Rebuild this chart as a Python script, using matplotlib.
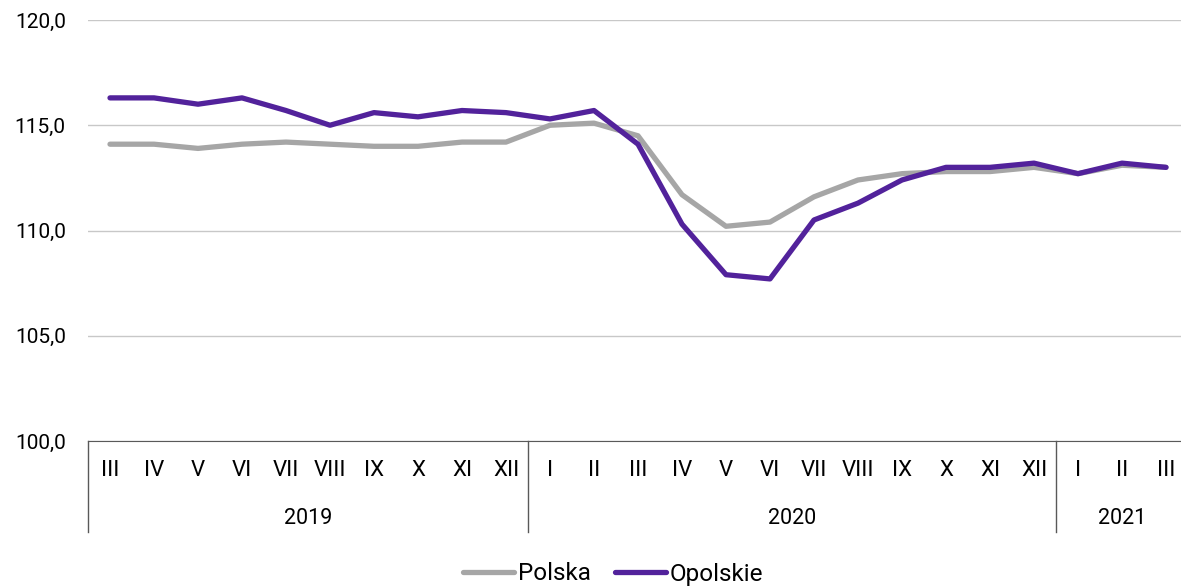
import numpy as np
import matplotlib
matplotlib.use('Agg')
import matplotlib.pyplot as plt
import matplotlib.transforms as mtrans

plt.rcParams['font.family'] = ['Roboto', 'DejaVu Sans']

# dane
months = ['III', 'IV', 'V', 'VI', 'VII', 'VIII', 'IX', 'X', 'XI', 'XII',
          'I', 'II', 'III', 'IV', 'V', 'VI', 'VII', 'VIII', 'IX', 'X', 'XI', 'XII',
          'I', 'II', 'III']
years = ['2019', '2020', '2021']
year_counts = [10, 12, 3]

polska = [114.1, 114.1, 113.9, 114.1, 114.2, 114.1, 114.0, 114.0, 114.2, 114.2,
          115.0, 115.1, 114.5, 111.7, 110.2, 110.4, 111.6, 112.4, 112.7, 112.8, 112.8, 113.0,
          112.7, 113.1, 113.0]
opolskie = [116.3, 116.3, 116.0, 116.3, 115.7, 115.0, 115.6, 115.4, 115.7, 115.6,
            115.3, 115.7, 114.1, 110.3, 107.9, 107.7, 110.5, 111.3, 112.4, 113.0, 113.0, 113.2,
            112.7, 113.2, 113.0]

W, H = 1181, 587
fig = plt.figure(figsize=(W / 100, H / 100), dpi=100)
ax = fig.add_axes([88 / W, (H - 441) / H, 1100 / W, 421 / H])

x = np.arange(len(months))
ax.plot(x, polska, color='#a6a6a6', lw=3.8, label='Polska', solid_capstyle='round')
ax.plot(x, opolskie, color='#52229b', lw=3.8, label='Opolskie', solid_capstyle='round')

ax.set_xlim(-0.5, len(months) - 0.5)
ax.set_ylim(100, 120)
ax.set_yticks([100, 105, 110, 115, 120])
ax.set_yticklabels([f'{v:.1f}'.replace('.', ',') for v in [100, 105, 110, 115, 120]])
ax.grid(axis='y', color='#c8c8c8', lw=1)
ax.set_axisbelow(True)
for s in ['top', 'right', 'left']:
    ax.spines[s].set_visible(False)
ax.spines['bottom'].set_color('#595959')
ax.tick_params(axis='y', length=0, pad=16, labelsize=15)
ax.set_xticks(x)
ax.set_xticklabels(months)
ax.tick_params(axis='x', length=0, pad=14, labelsize=16)

# podział na lata
trans = mtrans.blended_transform_factory(ax.transData, ax.transAxes)
depth = 91 / 421
start = 0
bounds = [-0.5]
for yr, n in zip(years, year_counts):
    center = start + (n - 1) / 2
    ax.text(center, -77 / 421, yr, transform=trans, ha='center', va='center', fontsize=15.5)
    start += n
    bounds.append(start - 0.5)
for b in bounds[:-1]:
    ax.plot([b, b], [0, -depth], transform=trans, color='#595959', lw=1, clip_on=False)

fig.legend(loc='center', bbox_to_anchor=(0.519, 1 - 574 / H), ncol=2, frameon=False,
           fontsize=17.5, handlelength=2.1, handletextpad=0.15, columnspacing=1.0)

fig.savefig('out.png', dpi=100)
